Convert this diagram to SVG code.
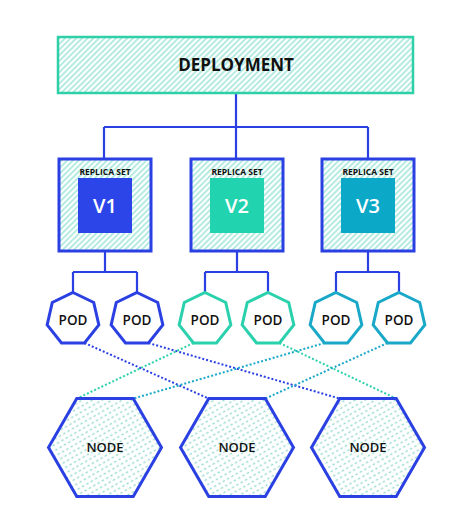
<svg xmlns="http://www.w3.org/2000/svg" width="474" height="532" viewBox="0 0 474 532">
  <defs>
    <pattern id="hatch" patternUnits="userSpaceOnUse" width="4" height="4" patternTransform="rotate(45)">
      <rect width="4" height="4" fill="#ffffff"/>
      <line x1="1" y1="0" x2="1" y2="4" stroke="#a3e6da" stroke-width="1.6"/>
    </pattern>
    <pattern id="dots" patternUnits="userSpaceOnUse" width="5" height="5" patternTransform="rotate(-30)">
      <rect width="5" height="5" fill="#ffffff"/>
      <rect x="0.5" y="1.8" width="2.4" height="1.4" fill="#93d9d0"/>
    </pattern>
    <style>
      .lbl { font-family: "Open Sans", "Liberation Sans", sans-serif; font-weight: 700; fill: #111; text-anchor: middle; }
      .sm { font-weight: 600; }
      .v { font-family: "Open Sans", "Liberation Sans", sans-serif; font-weight: 600; fill: #ffffff; text-anchor: middle; font-size: 20px; }
      .tree { fill: none; stroke: #2b40e3; stroke-width: 2.2; }
      .rs { fill: url(#hatch); stroke: #2b40e3; stroke-width: 3; }
      .pod { fill: #ffffff; stroke-width: 3; stroke-linejoin: miter; }
      .blue { stroke: #2b40e3; }
      .green { stroke: #2bd1ad; }
      .cyan { stroke: #19a8c8; }
      .dot { fill: none; stroke-width: 2; stroke-dasharray: 2 2; }
      .node { fill: url(#dots); stroke: #2b40e3; stroke-width: 3; }
    </style>
  </defs>

  <g id="connectors">
    <path class="tree" d="M236,93 V127 M104,127 H368 M104,127 V159 M236,127 V159 M368,127 V159"/>
    <path class="tree" d="M105,251 V272 M73,272 H137 M73,272 V292.5 M137,272 V292.5"/>
    <path class="tree" d="M237,251 V272 M205,272 H268 M205,272 V292.5 M268,272 V292.5"/>
    <path class="tree" d="M368,251 V272 M336,272 H399 M336,272 V292.5 M399,272 V292.5"/>
    <line class="dot blue" x1="84.5" y1="343" x2="208.75" y2="398.6"/>
    <line class="dot blue" x1="148.5" y1="343" x2="339.75" y2="398.6"/>
    <line class="dot green" x1="193.5" y1="343" x2="76.75" y2="398.6"/>
    <line class="dot green" x1="279.5" y1="343" x2="396.25" y2="398.6"/>
    <line class="dot cyan" x1="324.5" y1="343" x2="133.25" y2="398.6"/>
    <line class="dot cyan" x1="387.5" y1="343" x2="265.25" y2="398.6"/>
  </g>

  <g id="deployment">
    <rect x="58" y="37" width="355" height="56" fill="url(#hatch)" stroke="#2fd0a8" stroke-width="2.5"/>
    <text class="lbl" x="236" y="71" font-size="17">DEPLOYMENT</text>
  </g>

  <g id="replicaset-v1">
    <rect class="rs" x="59" y="159" width="92" height="92"/>
    <text class="lbl" x="105" y="175" font-size="8.5">REPLICA SET</text>
    <rect x="78" y="178" width="54" height="55" fill="#2b45e8"/>
    <text class="v" x="105" y="212.5">V1</text>
  </g>
  <g id="replicaset-v2">
    <rect class="rs" x="191" y="159" width="92" height="92"/>
    <text class="lbl" x="237" y="175" font-size="8.5">REPLICA SET</text>
    <rect x="210" y="178" width="54" height="55" fill="#22d3b0"/>
    <text class="v" x="237" y="212.5">V2</text>
  </g>
  <g id="replicaset-v3">
    <rect class="rs" x="322" y="159" width="92" height="92"/>
    <text class="lbl" x="368" y="175" font-size="8.5">REPLICA SET</text>
    <rect x="341" y="178" width="54" height="55" fill="#0ca8c8"/>
    <text class="v" x="368" y="212.5">V3</text>
  </g>

  <g id="pod-1">
    <polygon class="pod blue" transform="translate(73,319)" points="0,-26.5 20.72,-16.52 25.84,5.9 11.5,23.88 -11.5,23.88 -25.84,5.9 -20.72,-16.52"/>
    <text class="lbl sm" x="73" y="324.5" font-size="13.5">POD</text>
  </g>
  <g id="pod-2">
    <polygon class="pod blue" transform="translate(137,319)" points="0,-26.5 20.72,-16.52 25.84,5.9 11.5,23.88 -11.5,23.88 -25.84,5.9 -20.72,-16.52"/>
    <text class="lbl sm" x="137" y="324.5" font-size="13.5">POD</text>
  </g>
  <g id="pod-3">
    <polygon class="pod green" transform="translate(205,319)" points="0,-26.5 20.72,-16.52 25.84,5.9 11.5,23.88 -11.5,23.88 -25.84,5.9 -20.72,-16.52"/>
    <text class="lbl sm" x="205" y="324.5" font-size="13.5">POD</text>
  </g>
  <g id="pod-4">
    <polygon class="pod green" transform="translate(268,319)" points="0,-26.5 20.72,-16.52 25.84,5.9 11.5,23.88 -11.5,23.88 -25.84,5.9 -20.72,-16.52"/>
    <text class="lbl sm" x="268" y="324.5" font-size="13.5">POD</text>
  </g>
  <g id="pod-5">
    <polygon class="pod cyan" transform="translate(336,319)" points="0,-26.5 20.72,-16.52 25.84,5.9 11.5,23.88 -11.5,23.88 -25.84,5.9 -20.72,-16.52"/>
    <text class="lbl sm" x="336" y="324.5" font-size="13.5">POD</text>
  </g>
  <g id="pod-6">
    <polygon class="pod cyan" transform="translate(399,319)" points="0,-26.5 20.72,-16.52 25.84,5.9 11.5,23.88 -11.5,23.88 -25.84,5.9 -20.72,-16.52"/>
    <text class="lbl sm" x="399" y="324.5" font-size="13.5">POD</text>
  </g>

  <g id="node-1">
    <polygon class="node" transform="translate(105,447.5)" points="56.5,0 28.25,48.9 -28.25,48.9 -56.5,0 -28.25,-48.9 28.25,-48.9"/>
    <text class="lbl sm" x="105" y="452" font-size="13">NODE</text>
  </g>
  <g id="node-2">
    <polygon class="node" transform="translate(237,447.5)" points="56.5,0 28.25,48.9 -28.25,48.9 -56.5,0 -28.25,-48.9 28.25,-48.9"/>
    <text class="lbl sm" x="237" y="452" font-size="13">NODE</text>
  </g>
  <g id="node-3">
    <polygon class="node" transform="translate(368,447.5)" points="56.5,0 28.25,48.9 -28.25,48.9 -56.5,0 -28.25,-48.9 28.25,-48.9"/>
    <text class="lbl sm" x="368" y="452" font-size="13">NODE</text>
  </g>
</svg>
